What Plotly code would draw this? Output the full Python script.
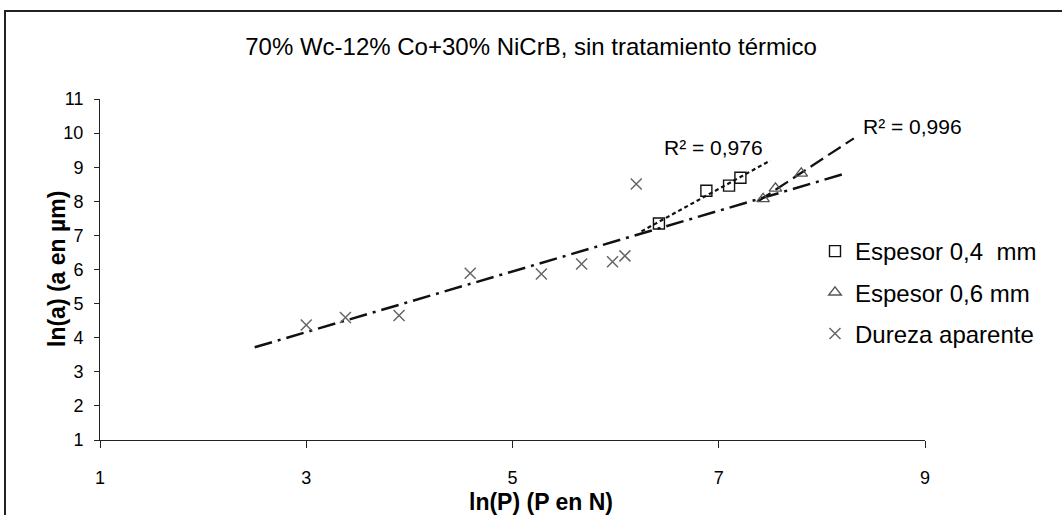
import numpy as np
import plotly.graph_objects as go

# ln(P) / ln(a) measurements
esp04_x = [6.42, 6.88, 7.10, 7.21]
esp04_y = [7.35, 8.31, 8.46, 8.69]
esp06_x = [7.43, 7.55, 7.80]
esp06_y = [8.07, 8.38, 8.82]
dureza_x = [3.00, 3.38, 3.90, 4.59, 5.28, 5.67, 5.97, 6.09, 6.20]
dureza_y = [4.37, 4.59, 4.65, 5.89, 5.87, 6.16, 6.23, 6.40, 8.51]

# x extent of each linear trendline
esp04_fit_range = [6.25, 7.50]
esp06_fit_range = [7.38, 8.31]
dureza_fit_range = [2.50, 8.20]

r2_labels = ["R² = 0,976", "R² = 0,996"]
x_ticks = [1, 3, 5, 7, 9]

FONT = "Liberation Sans, Arial, sans-serif"


def trend(xs, ys, xr):
    slope, intercept = np.polyfit(xs, ys, 1)
    xx = np.array(xr)
    return xx, slope * xx + intercept


fig = go.Figure()

# trendlines
for xs, ys, xr, dash, w in [
    (dureza_x, dureza_y, dureza_fit_range, "18px,6px,3px,6px", 2.5),
    (esp04_x, esp04_y, esp04_fit_range, "4px,3px", 2.2),
    (esp06_x, esp06_y, esp06_fit_range, "15px,6px", 2.2),
]:
    tx, ty = trend(xs, ys, xr)
    fig.add_trace(go.Scatter(x=tx, y=ty, mode="lines", showlegend=False,
                             hoverinfo="skip",
                             line=dict(color="#111", width=w, dash=dash)))

fig.add_trace(go.Scatter(
    x=esp04_x, y=esp04_y, mode="markers", name="Espesor 0,4  mm",
    legendgroup="a",
    marker=dict(symbol="square-open", size=11, color="#111",
                line=dict(width=1.4, color="#111"))))
fig.add_trace(go.Scatter(
    x=esp06_x, y=esp06_y, mode="markers", name="Espesor 0,6 mm",
    legendgroup="b",
    marker=dict(symbol="triangle-up-open", size=11, color="#555",
                line=dict(width=1.4, color="#555"))))
fig.add_trace(go.Scatter(
    x=dureza_x, y=dureza_y, mode="markers", name="Dureza aparente",
    legendgroup="c",
    marker=dict(symbol="x-thin-open", size=11, color="#666",
                line=dict(width=1.5, color="#666"))))

fig.update_layout(
    width=1062, height=515,
    margin=dict(l=100, r=137, t=99, b=75),
    paper_bgcolor="white", plot_bgcolor="white",
    font=dict(family=FONT, color="#000", size=18),
    title=dict(text="70% Wc-12% Co+30% NiCrB, sin tratamiento térmico",
               x=0.5, xanchor="center", y=1 - 47 / 515, yanchor="middle",
               font=dict(size=24, family=FONT, color="#000")),
    xaxis=dict(range=[1, 9], tickvals=x_ticks, showgrid=False, zeroline=False,
               showline=True, linecolor="#222", linewidth=1,
               ticks="outside", ticklen=7, tickcolor="#222",
               tickfont=dict(size=18), ticklabelstandoff=14),
    yaxis=dict(range=[1, 11], dtick=1, showgrid=False, zeroline=False,
               showline=True, linecolor="#222", linewidth=1,
               ticks="outside", ticklen=5, tickcolor="#222",
               tickfont=dict(size=18), ticklabelstandoff=7),
    legend=dict(x=(815 - 100) / 825, y=(440 - 229) / 341,
                xanchor="left", yanchor="top",
                font=dict(size=24), bgcolor="rgba(0,0,0,0)",
                traceorder="grouped", tracegroupgap=7, itemwidth=30),
    showlegend=True,
)

fig.add_annotation(text="<b>ln(P) (P en N)</b>", xref="paper", yref="paper",
                   x=(541 - 100) / 825, y=(440 - 502) / 341, showarrow=False,
                   font=dict(size=23), xanchor="center", yanchor="middle")
fig.add_annotation(text="<b>ln(a) (a en µm)</b>", xref="paper", yref="paper",
                   x=(57 - 100) / 825, y=(440 - 269) / 341, showarrow=False,
                   textangle=-90, font=dict(size=23),
                   xanchor="center", yanchor="middle")
fig.add_annotation(text=r2_labels[0], xref="paper", yref="paper",
                   x=(713 - 100) / 825, y=(440 - 147) / 341, showarrow=False,
                   font=dict(size=21), xanchor="center", yanchor="middle")
fig.add_annotation(text=r2_labels[1], xref="paper", yref="paper",
                   x=(912 - 100) / 825, y=(440 - 126) / 341, showarrow=False,
                   font=dict(size=21), xanchor="center", yanchor="middle")

# chart frame
fig.add_shape(type="rect", xref="paper", yref="paper",
              x0=(5 - 100) / 825, x1=(1075 - 100) / 825,
              y0=(440 - 530) / 341, y1=(440 - 11) / 341,
              line=dict(color="#222", width=2), fillcolor="rgba(0,0,0,0)")

fig.write_html("out.html")
